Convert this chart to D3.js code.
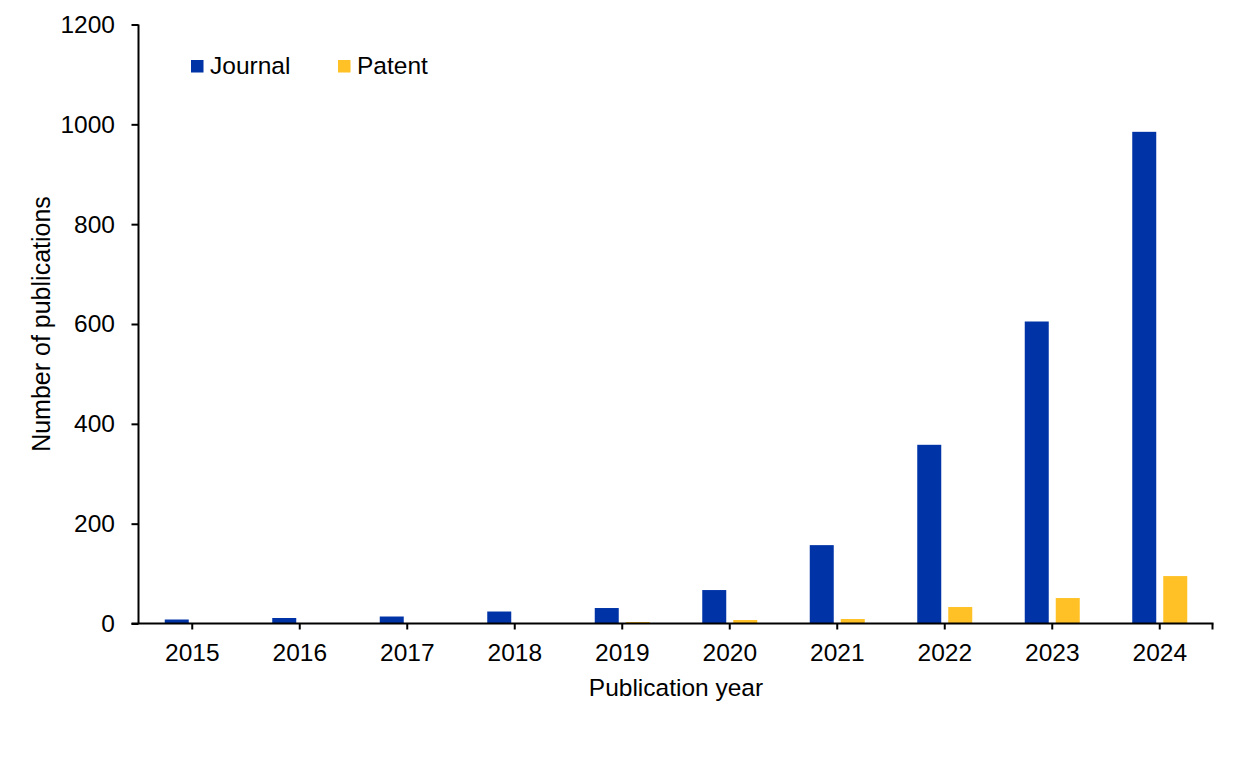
<!DOCTYPE html>
<html>
<head>
<meta charset="utf-8">
<script src="https://cdn.jsdelivr.net/npm/d3@7"></script>
<style>
  html, body { margin: 0; padding: 0; background: #fff; }
  svg { display: block; }
  text { font-family: Arial, "Liberation Sans", sans-serif; fill: #000; }
</style>
</head>
<body>
<svg id="chart" width="1236" height="781"></svg>
<script>
const years = ["2015","2016","2017","2018","2019","2020","2021","2022","2023","2024"];
const seriesNames = ["Journal", "Patent"];
const journal = [8, 11, 14, 24, 31, 67, 157, 358, 605, 985];
const patent = [0, 0, 0, 0, 3, 7, 9, 33, 51, 95];
const yTicks = [0, 200, 400, 600, 800, 1000, 1200];
const colors = {Journal: "#0033A6", Patent: "#FFC125"};

(function () {
const svg = d3.select("#chart");
const mLeft = 138.5, mRight = 1213.5, mTop = 24.5, mBottom = 623.5;
const fs = 24.5;

const x = d3.scaleBand().domain(years).range([mLeft, mRight]).padding(0);
const bw = x.bandwidth();
const xs = d3.scaleBand().domain(seriesNames)
  .range([bw / 2 - 27.5, bw / 2 + 27.5]).paddingInner(7 / 31).paddingOuter(0);
const y = d3.scaleLinear().domain([0, 1200]).range([mBottom, mTop]);

const rows = years.map((yr, i) => ({year: yr, Journal: journal[i], Patent: patent[i]}));

// bars
const g = svg.append("g");
rows.forEach(r => {
  seriesNames.forEach(s => {
    if (r[s] <= 0) return;
    g.append("rect")
      .attr("x", x(r.year) + xs(s))
      .attr("width", xs.bandwidth())
      .attr("y", y(r[s]))
      .attr("height", y(0) - y(r[s]))
      .attr("fill", colors[s]);
  });
});

// y axis
const yAxis = d3.axisLeft(y).tickValues(yTicks).tickFormat(d3.format("d")).tickSize(7).tickPadding(16.5);
const gy = svg.append("g").attr("transform", `translate(${mLeft},0)`).call(yAxis);
gy.select(".domain").attr("stroke", "#000").attr("stroke-width", 2)
  .attr("d", `M0,${mTop}V${mBottom}`);
gy.selectAll(".tick line").attr("stroke", "#000").attr("stroke-width", 2);
gy.selectAll(".tick text").style("font-size", fs + "px").attr("fill", "#000");

// x axis
const xAxis = d3.axisBottom(x).tickSize(6).tickPadding(14.5).tickSizeOuter(0);
const gx = svg.append("g").attr("transform", `translate(0,${mBottom})`).call(xAxis);
gx.select(".domain").attr("stroke", "#000").attr("stroke-width", 2)
  .attr("d", `M${mLeft - 7},0H${mRight}`);
gx.selectAll(".tick line").attr("stroke", "#000").attr("stroke-width", 2);
gx.selectAll(".tick text").style("font-size", fs + "px").attr("fill", "#000");
gx.append("line").attr("x1", mRight - 1).attr("x2", mRight - 1).attr("y1", 0).attr("y2", 6)
  .attr("stroke", "#000").attr("stroke-width", 2);

// axis titles
svg.append("text")
  .attr("x", (mLeft + mRight) / 2).attr("y", 696)
  .attr("text-anchor", "middle").style("font-size", fs + "px")
  .text("Publication year");
svg.append("text")
  .attr("transform", `translate(50,${(mTop + mBottom) / 2}) rotate(-90)`)
  .attr("text-anchor", "middle").style("font-size", "25px")
  .text("Number of publications");

// legend
const legendX = [191, 338];
seriesNames.forEach((s, i) => {
  svg.append("rect").attr("x", legendX[i]).attr("y", 60).attr("width", 12.5).attr("height", 12.5)
    .attr("fill", colors[s]);
  svg.append("text").attr("x", legendX[i] + 19).attr("y", 74)
    .style("font-size", fs + "px").text(s);
});
})();
</script>
</body>
</html>
